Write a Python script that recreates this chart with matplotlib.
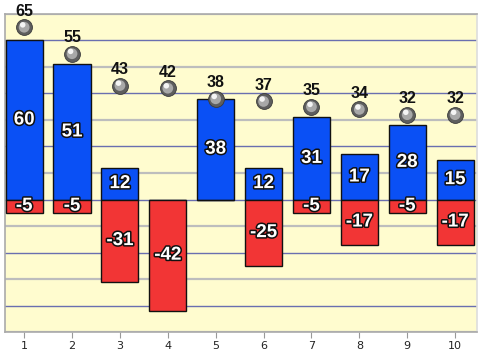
import matplotlib.pyplot as plt
import matplotlib.patheffects as pe
from matplotlib.ticker import MultipleLocator

categorias = [1, 2, 3, 4, 5, 6, 7, 8, 9, 10]
positivos = [60, 51, 12, 0, 38, 12, 31, 17, 28, 15]
negativos = [-5, -5, -31, -42, 0, -25, -5, -17, -5, -17]
marcadores = [65, 55, 43, 42, 38, 37, 35, 34, 32, 32]

fonte = ["Liberation Sans Narrow", "Liberation Sans"]

fig = plt.figure(figsize=(4.8, 3.54), dpi=100)
ax = fig.add_axes([0.0104, 0.0621, 0.9836, 0.8984])
ax.set_facecolor("#FFFCCF")

ax.set_xlim(0.6, 10.46)
ax.set_ylim(-50, 70)
ax.yaxis.set_major_locator(MultipleLocator(20))
ax.yaxis.set_minor_locator(MultipleLocator(10))
ax.grid(which="minor", axis="y", color="#BDBDBD", linewidth=1.6, zorder=0)
ax.grid(which="major", axis="y", color="#6A6FB0", linewidth=1.0, zorder=0)
ax.set_axisbelow(True)
ax.tick_params(axis="y", which="both", left=False, labelleft=False)
ax.set_xticks(categorias)
ax.tick_params(axis="x", length=4, color="#999999", labelsize=8, labelcolor="#222222", pad=2.5)

for lado in ["left", "bottom", "top", "right"]:
    ax.spines[lado].set_color("#AAAAAA")
    ax.spines[lado].set_linewidth(1.2)
ax.spines["right"].set_color("#DDDDDD")

largura = 0.775
ax.bar(categorias, positivos, width=largura, color="#0A50F5", edgecolor="#111111", linewidth=1, zorder=3)
ax.bar(categorias, negativos, width=largura, color="#F23535", edgecolor="#111111", linewidth=1, zorder=3)

contorno = [pe.withStroke(linewidth=2.2, foreground="#111111")]
for x, p, n in zip(categorias, positivos, negativos):
    if p != 0:
        ax.text(x, p / 2, str(p), ha="center", va="center", color="white",
                fontsize=13.5, fontweight="bold", family=fonte,
                path_effects=contorno, zorder=5)
    if n != 0:
        ax.text(x, n / 2, str(n), ha="center", va="center", color="white",
                fontsize=13.5, fontweight="bold", family=fonte,
                path_effects=contorno, zorder=5)

# esferas
ax.scatter(categorias, marcadores, s=130, color="#5E5E5E", edgecolor="#3A3A3A", linewidth=0.6, zorder=6)
ax.scatter(categorias, marcadores, s=60, color="#A8A8A8", edgecolor="none", zorder=7)
ax.scatter([c - 0.03 for c in categorias], [m + 0.9 for m in marcadores], s=16,
           color="#F4F4F4", edgecolor="none", zorder=8)

for x, m in zip(categorias, marcadores):
    ax.annotate(str(m), (x, m), xytext=(0, 6), textcoords="offset points",
                ha="center", va="bottom", fontsize=11.5, fontweight="bold",
                family=fonte, color="#111111", zorder=9)

fig.savefig("out.png", dpi=100)
